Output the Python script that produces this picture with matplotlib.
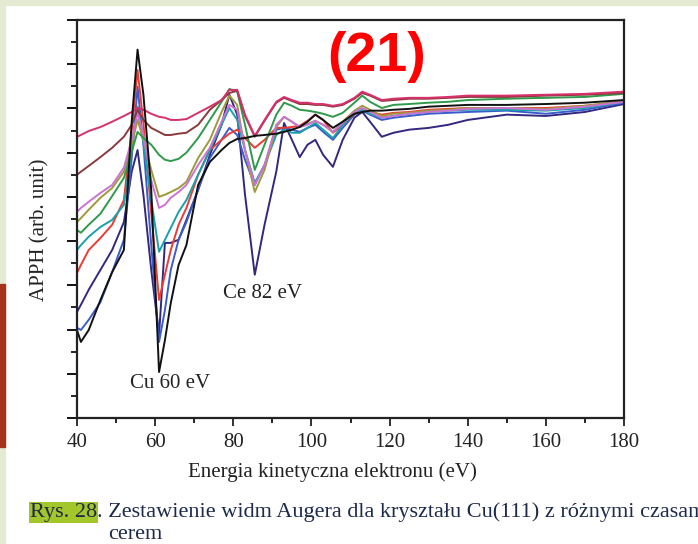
import matplotlib
matplotlib.use("Agg")
import matplotlib.pyplot as plt
from matplotlib.patches import Rectangle
from matplotlib.ticker import MultipleLocator

plt.rcParams["font.family"] = ["Liberation Serif", "DejaVu Serif"]

# kinetic energy grid (eV)
energy = [40, 41, 43, 46, 49, 52, 54, 55.5, 57, 59, 61, 62.5, 64, 66, 68, 71, 74, 77,
          79, 81, 83, 85.5, 88, 91, 93, 95, 97, 99, 101, 103, 105.5, 108, 111, 113,
          115, 118, 121, 125, 130, 135, 140, 150, 160, 170, 180]

# APPH spectra, arb. units (one per Ce deposition time)
pink = [6.36, 6.40, 6.49, 6.58, 6.70, 6.83, 6.92, 7.01, 6.97, 6.88, 6.81, 6.79, 6.74, 6.74,
        6.76, 6.90, 7.04, 7.19, 7.42, 7.42, 6.86, 6.38, 6.74, 7.15, 7.26, 7.19, 7.13, 7.13,
        7.10, 7.10, 7.06, 7.10, 7.24, 7.38, 7.31, 7.19, 7.22, 7.24, 7.24, 7.26, 7.29, 7.29,
        7.31, 7.33, 7.38]
maroon = [5.50, 5.57, 5.70, 5.90, 6.11, 6.36, 6.63, 6.97, 6.74, 6.56, 6.47, 6.40, 6.40, 6.43,
          6.45, 6.63, 6.97, 7.19, 7.35, 7.40, 6.83, 6.36, 6.72, 7.13, 7.24, 7.17, 7.10, 7.10,
          7.08, 7.08, 7.04, 7.08, 7.22, 7.35, 7.29, 7.17, 7.19, 7.22, 7.22, 7.24, 7.26, 7.26,
          7.29, 7.31, 7.35]
green = [4.25, 4.19, 4.37, 4.62, 5.02, 5.43, 6.02, 6.47, 6.33, 6.18, 5.95, 5.84, 5.81, 5.86,
         6.00, 6.33, 6.74, 7.15, 7.44, 7.38, 6.63, 5.61, 6.18, 6.86, 7.13, 7.06, 6.97, 6.95,
         6.92, 6.88, 6.81, 6.90, 7.13, 7.29, 7.15, 7.01, 7.08, 7.10, 7.13, 7.15, 7.19, 7.22,
         7.24, 7.26, 7.33]
violet = [4.66, 4.75, 4.89, 5.09, 5.27, 5.66, 6.29, 6.90, 6.40, 5.38, 4.75, 4.82, 4.98, 5.11,
          5.27, 5.72, 6.11, 6.70, 7.08, 6.97, 6.06, 5.27, 5.72, 6.63, 6.81, 6.70, 6.58, 6.63,
          6.72, 6.63, 6.47, 6.67, 6.92, 7.01, 6.92, 6.79, 6.83, 6.88, 6.92, 6.95, 6.99, 7.01,
          6.97, 7.04, 7.15]
olive = [4.43, 4.52, 4.71, 4.98, 5.20, 5.57, 6.18, 6.74, 6.29, 5.61, 5.00, 5.05, 5.11, 5.20,
         5.34, 5.88, 6.29, 6.92, 7.29, 7.08, 6.06, 5.11, 5.61, 6.58, 6.81, 6.70, 6.58, 6.65,
         6.72, 6.63, 6.47, 6.70, 6.95, 7.06, 6.97, 6.83, 6.88, 6.90, 6.95, 6.97, 7.01, 7.01,
         6.99, 7.06, 7.17]
teal = [3.80, 3.91, 4.10, 4.32, 4.48, 4.82, 6.06, 7.04, 6.22, 4.93, 3.76, 4.03, 4.30, 4.66,
        4.93, 5.50, 6.06, 6.63, 7.01, 6.74, 6.06, 5.32, 5.72, 6.40, 6.52, 6.45, 6.45, 6.56,
        6.67, 6.52, 6.33, 6.63, 6.90, 6.97, 6.88, 6.79, 6.83, 6.88, 6.92, 6.95, 6.97, 6.97,
        6.95, 7.01, 7.15]
red = [3.28, 3.46, 3.80, 4.07, 4.37, 4.93, 6.52, 7.87, 6.67, 4.64, 2.67, 3.24, 3.80, 4.37,
       4.75, 5.50, 6.06, 6.29, 6.43, 6.52, 6.33, 6.11, 6.29, 6.56, 6.56, 6.58, 6.61, 6.72,
       6.86, 6.74, 6.45, 6.63, 6.88, 6.95, 6.92, 6.86, 6.90, 6.92, 6.97, 6.99, 7.01, 7.01,
       7.01, 7.06, 7.15]
black = [1.99, 1.72, 1.99, 2.67, 3.30, 3.80, 6.70, 8.33, 7.31, 5.16, 1.04, 1.76, 2.60, 3.46,
         3.91, 5.27, 5.79, 6.06, 6.22, 6.31, 6.33, 6.38, 6.40, 6.43, 6.47, 6.52, 6.58, 6.70,
         6.86, 6.74, 6.56, 6.70, 6.88, 6.92, 6.95, 6.95, 6.97, 6.99, 7.04, 7.06, 7.08, 7.08,
         7.10, 7.13, 7.19]
blue = [2.04, 1.99, 2.22, 2.62, 3.30, 4.03, 5.88, 7.49, 6.18, 3.91, 1.72, 2.44, 3.35, 4.03,
        4.43, 5.16, 5.88, 6.29, 6.56, 6.40, 5.84, 5.27, 5.72, 6.52, 6.56, 6.52, 6.47, 6.56,
        6.63, 6.47, 6.29, 6.56, 6.86, 6.95, 6.86, 6.74, 6.79, 6.83, 6.88, 6.90, 6.92, 6.95,
        6.88, 6.97, 7.13]
indigo = [2.40, 2.56, 2.90, 3.35, 3.80, 4.43, 5.57, 6.06, 5.05, 3.35, 1.88, 3.96, 3.96, 4.03,
          4.48, 5.16, 5.95, 6.63, 7.31, 6.86, 5.05, 3.24, 4.37, 5.57, 6.67, 6.29, 5.90, 6.18,
          6.29, 5.95, 5.68, 6.29, 6.79, 6.92, 6.70, 6.36, 6.45, 6.52, 6.56, 6.63, 6.74, 6.86,
          6.83, 6.92, 7.10]

curves = [
    (indigo, "#33287f"),
    (blue, "#3b5ccc"),
    (red, "#ec3b34"),
    (teal, "#17a2a8"),
    (olive, "#9d9a3a"),
    (violet, "#cc72d4"),
    (green, "#2f9a4a"),
    (maroon, "#8a3a3c"),
    (pink, "#d8306c"),
    (black, "#111111"),
]

W, H = 698, 544
fig = plt.figure(figsize=(W / 100, H / 100), dpi=100)
fig.patch.set_facecolor("white")

# slide frame: pale strips on top and left, dark red accent bar
fig.add_artist(Rectangle((0, 1 - 5 / H), 1, 5 / H, transform=fig.transFigure,
                         color="#e5ebd2", zorder=0))
fig.add_artist(Rectangle((0, 0), 5 / W, 1, transform=fig.transFigure,
                         color="#e5ebd2", zorder=0))
fig.add_artist(Rectangle((0, 1 - 447 / H), 5 / W, 163 / H, transform=fig.transFigure,
                         color="#a5321b", zorder=1))

ax = fig.add_axes([77 / W, 1 - 418 / H, 547 / W, 398 / H])
for y, c in curves:
    ax.plot(energy, y, color=c, lw=1.4, solid_joinstyle="round")

ax.set_xlim(40, 180)
ax.set_ylim(0, 9.0)
ax.xaxis.set_major_locator(MultipleLocator(20))
ax.xaxis.set_minor_locator(MultipleLocator(10))
ax.yaxis.set_major_locator(MultipleLocator(1))
ax.yaxis.set_minor_locator(MultipleLocator(0.5))
ax.tick_params(axis="x", which="major", direction="out", length=6, width=1.3,
               pad=5, labelsize=15, colors="#222222")
ax.tick_params(axis="x", which="minor", direction="out", length=3.5, width=1.2)
ax.tick_params(axis="y", which="major", direction="out", length=7, width=1.3,
               labelleft=False)
ax.tick_params(axis="y", which="minor", direction="out", length=4, width=1.2)
for s in ax.spines.values():
    s.set_linewidth(1.6)
    s.set_color("#222222")

ax.text(87.4, 2.81, "Ce 82 eV", fontsize=15, ha="center", va="center", color="#222222")
ax.text(63.8, 0.77, "Cu 60 eV", fontsize=15, ha="center", va="center", color="#222222")

fig.text(377 / W, 1 - 57 / H, "(21)", color="#ff0000", fontsize=40, fontweight="bold",
         family="Liberation Sans", ha="center", va="center")
fig.text(332 / W, 1 - 477 / H, "Energia kinetyczna elektronu (eV)", fontsize=15,
         ha="center", va="baseline", color="#222222")
fig.text(40 / W, 1 - 230 / H, "APPH (arb. unit)", fontsize=15, rotation=90,
         ha="center", va="center", color="#222222")

# figure caption with highlighted number; the first line runs past the right edge
cap_color = "#1e2a4c"
rys = fig.text(30 / W, 1 - 517 / H, "Rys. 28", fontsize=16, va="baseline",
               color=cap_color,
               bbox=dict(facecolor="#a3c62a", edgecolor="none", pad=1.0))
fig.canvas.draw()
x_end = rys.get_window_extent().x1 / W
fig.text(x_end, 1 - 517 / H, ". Zestawienie widm Augera dla kryształu Cu(111) z różnymi czasami",
         fontsize=16, va="baseline", color=cap_color)
fig.text(108 / W, 1 - 539 / H, "cerem", fontsize=16, va="baseline", color=cap_color)

fig.savefig("out.png", dpi=100)
